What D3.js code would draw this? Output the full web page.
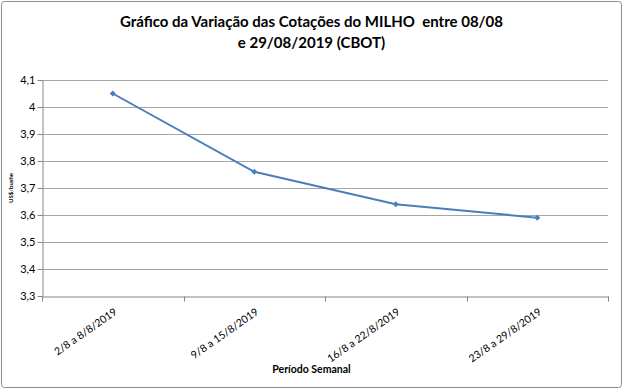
<!DOCTYPE html>
<html>
<head>
<meta charset="utf-8">
<script src="https://cdn.jsdelivr.net/npm/d3@7"></script>
<style>
  body { margin: 0; background: #fff; }
  text { font-family: Lato, "Open Sans", sans-serif; fill: #000; }
</style>
</head>
<body>
<div id="chart"></div>
<script>
// Chart values
const periods = ["2/8 a 8/8/2019", "9/8 a 15/8/2019", "16/8 a 22/8/2019", "23/8 a 29/8/2019"];
const prices = [4.05, 3.76, 3.64, 3.59];
const yTicks = [3.3, 3.4, 3.5, 3.6, 3.7, 3.8, 3.9, 4.0, 4.1];
const titleLines = ["Gráfico da Variação das Cotações do MILHO  entre 08/08", "e 29/08/2019 (CBOT)"];

const width = 623, height = 389;
const margin = { top: 80, right: 15, bottom: 93, left: 42 };

const svg = d3.select("#chart").append("svg")
    .attr("width", width)
    .attr("height", height);

// outer frame
svg.append("rect")
    .attr("x", 1.5).attr("y", 1.5)
    .attr("width", width - 3).attr("height", height - 3)
    .attr("rx", 3)
    .style("fill", "none")
    .style("stroke", "#8c8c8c")
    .style("stroke-width", 1);

const x = d3.scaleBand()
    .domain(periods)
    .range([margin.left, width - margin.right]);

const y = d3.scaleLinear()
    .domain([3.3, 4.1])
    .range([height - margin.bottom, margin.top]);

const fmt = d => d3.format(".1~f")(d).replace(".", ",");

// gridlines
svg.append("g")
    .selectAll("line")
    .data(yTicks.slice(1))
    .join("line")
    .attr("x1", margin.left).attr("x2", width - margin.right)
    .attr("y1", d => Math.round(y(d)) + 0.5).attr("y2", d => Math.round(y(d)) + 0.5)
    .style("stroke", "#a6a6a6");

// y axis
const yAxis = svg.append("g")
    .attr("transform", `translate(${margin.left + 0.5},0)`)
    .call(d3.axisLeft(y).tickValues(yTicks).tickFormat(fmt).tickSize(5).tickSizeOuter(0));
yAxis.select(".domain").style("stroke", "#868686");
yAxis.selectAll(".tick line").style("stroke", "#868686");
yAxis.selectAll(".tick text")
    .attr("x", -7)
    .style("font-size", "11px")
    .style("font-family", "Lato, sans-serif");

// x axis
const xAxis = svg.append("g")
    .attr("transform", `translate(0,${height - margin.bottom + 0.5})`)
    .call(d3.axisBottom(x).tickSize(0).tickSizeOuter(0));
xAxis.select(".domain").style("stroke", "#868686");
xAxis.selectAll(".tick line").remove();
// category boundary ticks
xAxis.selectAll(".bound")
    .data(periods.concat(["end"]))
    .join("line")
    .attr("class", "bound")
    .attr("x1", (d, i) => Math.round(margin.left + i * x.bandwidth()) + 0.5)
    .attr("x2", (d, i) => Math.round(margin.left + i * x.bandwidth()) + 0.5)
    .attr("y1", 0).attr("y2", 5)
    .style("stroke", "#868686");
xAxis.selectAll(".tick text")
    .attr("x", 0).attr("y", 0).attr("dy", 0)
    .style("text-anchor", "end")
    .style("font-size", "10.5px")
    .style("font-family", "Lato, sans-serif")
    .attr("transform", "translate(5,17) rotate(-35)");

// line
const line = d3.line()
    .x((d, i) => x(periods[i]) + x.bandwidth() / 2)
    .y(d => y(d));

svg.append("path")
    .datum(prices)
    .attr("d", line)
    .style("fill", "none")
    .style("stroke", "#4a7ebb")
    .style("stroke-width", 2);

svg.append("g")
    .selectAll("path")
    .data(prices)
    .join("path")
    .attr("d", d3.symbol(d3.symbolSquare, 18))
    .attr("transform", (d, i) => `translate(${x(periods[i]) + x.bandwidth() / 2},${y(d)}) rotate(45)`)
    .style("fill", "#4a7ebb");

// title
svg.append("g")
    .selectAll("text")
    .data(titleLines)
    .join("text")
    .attr("x", width / 2)
    .attr("y", (d, i) => 27 + i * 21)
    .attr("text-anchor", "middle")
    .attr("xml:space", "preserve")
    .style("white-space", "pre")
    .style("font-size", "15px")
    .style("font-weight", "bold")
    .text(d => d);

// axis titles
svg.append("text")
    .attr("x", width / 2)
    .attr("y", 373)
    .attr("text-anchor", "middle")
    .style("font-size", "10.5px")
    .style("font-weight", "bold")
    .text("Período Semanal");

svg.append("text")
    .attr("transform", `translate(13,${(margin.top + height - margin.bottom) / 2}) rotate(-90)`)
    .attr("text-anchor", "middle")
    .style("font-size", "6px")
    .style("font-weight", "bold")
    .text("US$/bushe");
</script>
</body>
</html>
